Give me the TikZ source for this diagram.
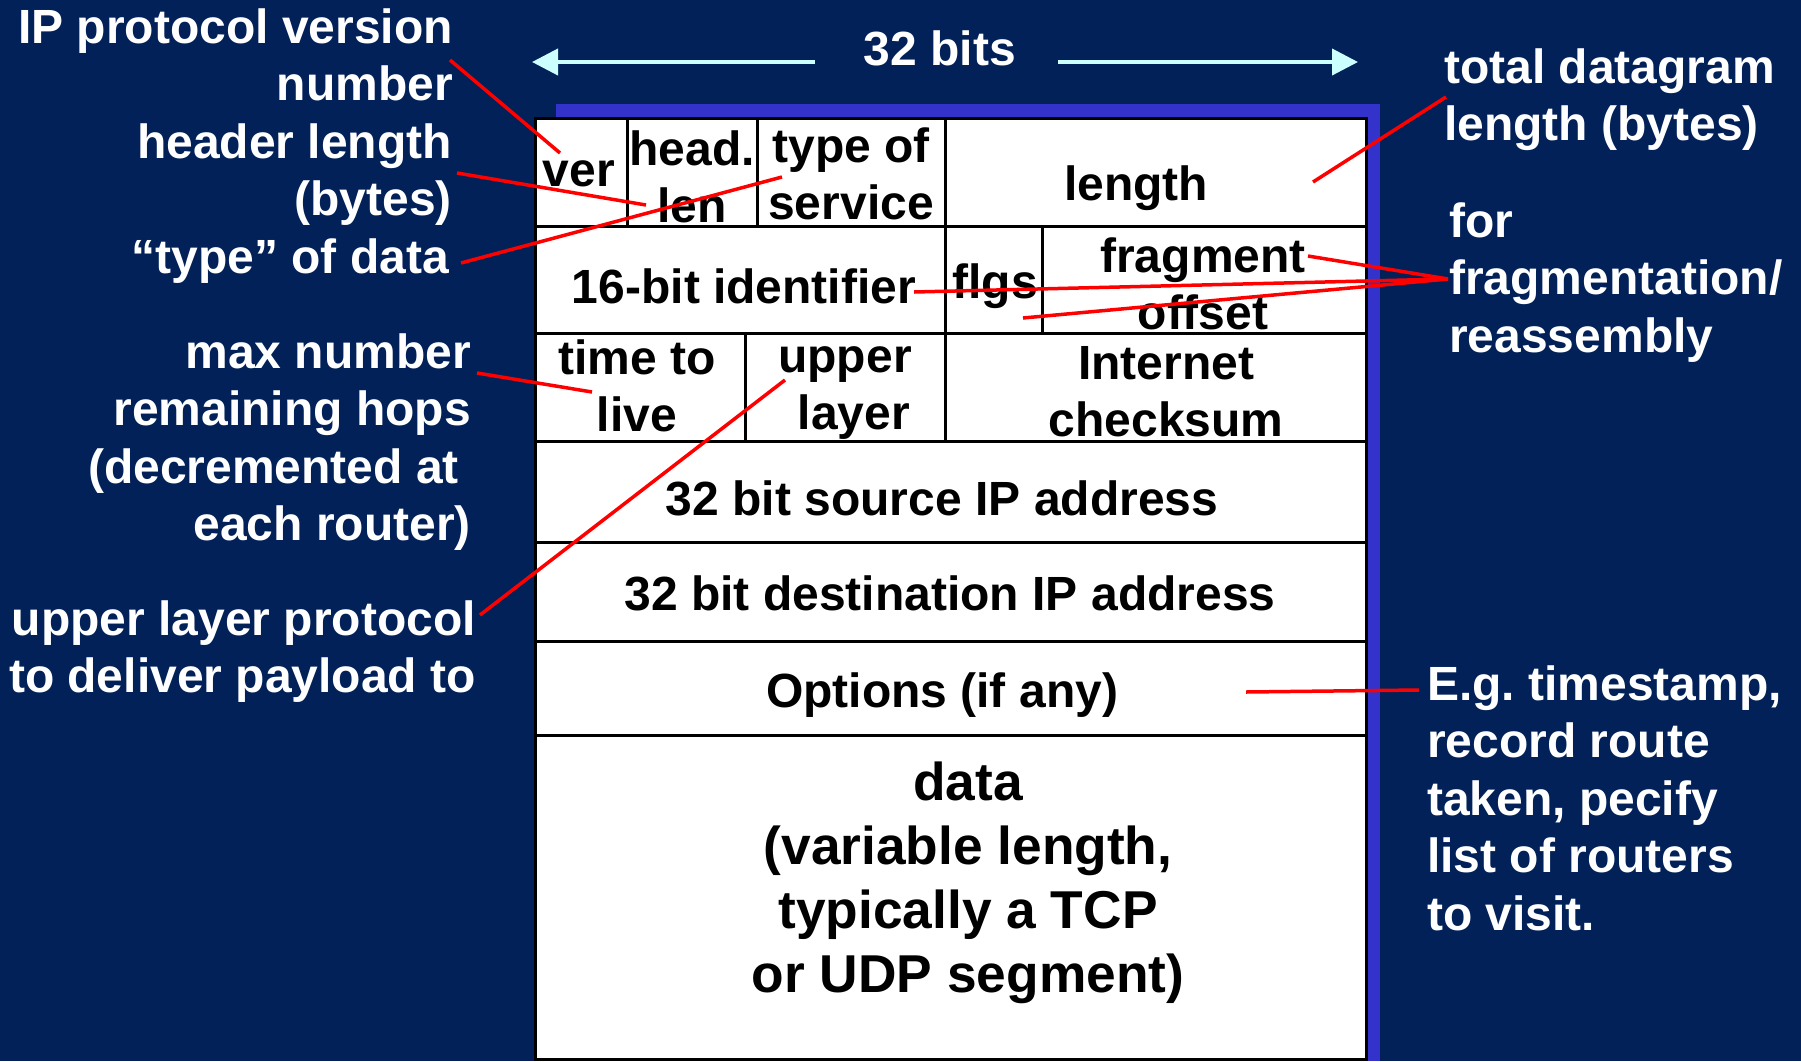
\documentclass[tikz,border=0pt]{standalone}
\usepackage{fontspec}
\setmainfont{Liberation Sans}
\usetikzlibrary{arrows.meta}
\frenchspacing
\definecolor{slidebg}{RGB}{1,33,88}
\definecolor{shadowblue}{RGB}{51,51,204}
\definecolor{arrowcyan}{RGB}{204,255,255}
\newcommand{\hdrfont}{\fontsize{48}{57.5}\selectfont\bfseries}
\newcommand{\datafont}{\fontsize{53.3}{64}\selectfont\bfseries}
\newcommand{\gap}[1]{\hbox to #1{}}
\begin{document}
\begin{tikzpicture}[x=1pt,y=-1pt,
  lbl/.style={text=white, font=\hdrfont, inner sep=0pt},
  lblright/.style={lbl, align=right, anchor=north east, yshift=40.25pt},
  lblleft/.style={lbl, align=left, anchor=north west, yshift=40.25pt},
  fld/.style={text=black, font=\hdrfont, inner sep=0pt, align=center, anchor=north, yshift=40.25pt},
  grid/.style={line width=3pt, black},
  pointer/.style={red, line width=3.5pt},
  widtharrow/.style={arrowcyan, line width=4pt, -{Triangle[length=26pt,width=26pt]}},
]
% slide background
\fill[slidebg] (0,0) rectangle (1801,1061);
\useasboundingbox (0,0) rectangle (1801,1061);

% header table with its blue drop shadow
\fill[shadowblue] (556,104) rectangle (1380,1061);
\fill[white] (535,118) rectangle (1366,1059);
\draw[grid] (535,118) rectangle (1366,1059);
\foreach \y in {226,333,441,542,641,735}
  \draw[grid] (535,\y) -- (1366,\y);
\foreach \x in {627,757,945}
  \draw[grid] (\x,118) -- (\x,226);
\foreach \x in {945,1042}
  \draw[grid] (\x,226) -- (\x,333);
\foreach \x in {745,945}
  \draw[grid] (\x,333) -- (\x,441);

% field names
\node[fld] (ver)     at (579,186)  {\strut ver};
\node[fld] (hlen)    at (692,165)  {\strut head.\\len};
\node[fld] (tos)     at (851,162)  {\strut type of\\service};
\node[fld] (totlen)  at (1136,200) {\strut length};
\node[fld] (ident)   at (744,303)  {\strut 16-bit identifier};
\node[fld] (flgs)    at (995,298)  {\strut flgs};
\node[fld] (fragoff) at (1203,272) {\strut fragment\\offset};
\node[fld] (ttl)     at (637,374)  {\strut time to\\live};
\node[fld] (proto)   at (845,372)  {\strut upper\\\gap{18pt}layer};
\node[fld] (csum)    at (1166,379) {\strut Internet\\checksum};
\node[fld] (src)     at (942,515)  {\strut 32 bit source IP address};
\node[fld] (dst)     at (950,610)  {\strut 32 bit destination IP address};
\node[fld] (opts)    at (942,707)  {\strut Options (if any)};
% payload text: its strut is 44.8pt tall, the style already shifts by 40.25pt
\node[fld, font=\datafont, yshift=4.55pt] (payload) at (968,800)
  {\strut data\\(variable length,\\typically a TCP\\or UDP segment)};

% width of a header row
\node[lbl, anchor=base] (bits) at (940,65) {32 bits};
\coordinate (bits-ls) at (815,62);
\coordinate (bits-le) at (532,62);
\coordinate (bits-rs) at (1058,62);
\coordinate (bits-re) at (1358,62);
\draw[widtharrow] (bits-ls) -- (bits-le);
\draw[widtharrow] (bits-rs) -- (bits-re);

% explanations on the left
\node[lblright] (verlbl)   at (453,43)  {\strut IP protocol version\\number};
\node[lblright] (hlenlbl)  at (452,158) {\strut header length\\(bytes)};
\node[lblright] (toslbl)   at (449,273) {\strut “type” of data};
\node[lblright] (ttllbl)   at (471,368) {\strut max number\\remaining hops\\(decremented at\gap{12pt}\\each router)};
\node[lblright] (protolbl) at (476,635) {\strut upper layer protocol\\to deliver payload to};

% explanations on the right
\node[lblleft] (totlenlbl) at (1444,83)  {\strut total datagram\\length (bytes)};
\node[lblleft] (fraglbl)   at (1449,237) {\strut for\\fragmentation/\\reassembly};
\node[lblleft] (optlbl)    at (1427,700) {\strut E.g. timestamp,\\record route\\taken, pecify\\list of routers\\to visit.};

% callout end points
\coordinate (verlbl-p)    at (450,60);
\coordinate (ver-p)       at (560,153);
\coordinate (hlenlbl-p)   at (457,173);
\coordinate (hlen-p)      at (646,205);
\coordinate (toslbl-p)    at (461,263);
\coordinate (tos-p)       at (782,177);
\coordinate (ttllbl-p)    at (477,373);
\coordinate (ttl-p)       at (592,392);
\coordinate (protolbl-p)  at (480,615);
\coordinate (proto-p)     at (785,380);
\coordinate (totlenlbl-p) at (1446,97);
\coordinate (totlen-p)    at (1313,182);
\coordinate (fraglbl-p)   at (1448,279);
\coordinate (frag-p)      at (1308,256);
\coordinate (ident-p)     at (914,292);
\coordinate (flgs-p)      at (1023,318);
\coordinate (optlbl-p)    at (1419,690);
\coordinate (opts-p)      at (1246,692);

% callouts
\draw[pointer] (verlbl-p) -- (ver-p);
\draw[pointer] (hlenlbl-p) -- (hlen-p);
\draw[pointer] (toslbl-p) -- (tos-p);
\draw[pointer] (ttllbl-p) -- (ttl-p);
\draw[pointer] (protolbl-p) -- (proto-p);
\draw[pointer] (totlenlbl-p) -- (totlen-p);
\draw[pointer] (fraglbl-p) -- (frag-p);
\draw[pointer] (fraglbl-p) -- (ident-p);
\draw[pointer] (fraglbl-p) -- (flgs-p);
\draw[pointer] (optlbl-p) -- (opts-p);
\end{tikzpicture}
\end{document}
